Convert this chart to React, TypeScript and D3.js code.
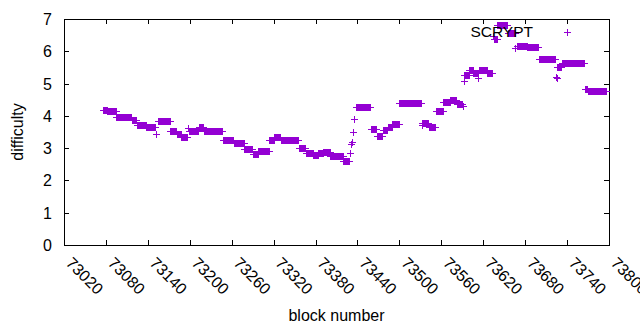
import React, { useEffect, useRef } from "react";
import * as d3 from "d3";

// runs of constant difficulty: first block, last block, difficulty
const runStart = [
  73076, 73082, 73095, 73117, 73124, 73138, 73152, 73155, 73172, 73182,
  73188, 73197, 73199, 73213, 73220, 73247, 73263, 73278, 73290, 73298,
  73314, 73321, 73330, 73356, 73366, 73377, 73384, 73391, 73401, 73420,
  73429, 73431, 73432, 73433, 73435, 73438, 73459, 73468, 73476, 73483,
  73490, 73500, 73532, 73533, 73542, 73552, 73563, 73573, 73582, 73591,
  73592, 73593, 73600, 73606, 73613, 73614, 73626, 73634, 73636, 73640,
  73655, 73666, 73668, 73683, 73700, 73724, 73725, 73726, 73733, 73765,
  73770,
];
const runEnd = [
  73081, 73094, 73116, 73123, 73137, 73150, 73152, 73171, 73181, 73187,
  73196, 73197, 73212, 73219, 73246, 73262, 73277, 73289, 73297, 73313,
  73320, 73329, 73355, 73365, 73376, 73383, 73390, 73400, 73419, 73428,
  73429, 73431, 73432, 73433, 73435, 73458, 73467, 73475, 73482, 73489,
  73499, 73531, 73532, 73541, 73551, 73562, 73572, 73581, 73590, 73591,
  73592, 73599, 73605, 73612, 73613, 73625, 73632, 73634, 73639, 73654,
  73665, 73666, 73682, 73699, 73722, 73724, 73725, 73732, 73764, 73769,
  73796,
];
const runDifficulty = [
  4.19, 4.14, 3.98, 3.88, 3.71, 3.67, 3.43, 3.83, 3.52, 3.44,
  3.34, 3.61, 3.52, 3.65, 3.52, 3.24, 3.15, 2.97, 2.82, 2.92,
  3.24, 3.34, 3.24, 2.99, 2.86, 2.79, 2.84, 2.89, 2.75, 2.59,
  2.85, 3.12, 3.18, 3.49, 3.89, 4.26, 3.58, 3.38, 3.55, 3.64,
  3.74, 4.39, 3.72, 3.79, 3.67, 4.14, 4.44, 4.49, 4.38, 4.31,
  5.08, 5.28, 5.42, 5.33, 5.18, 5.42, 5.33, 6.47, 6.38, 6.8,
  6.56, 6.1, 6.16, 6.12, 5.75, 5.21, 5.17, 5.5, 5.63, 4.84,
  4.78,
];

const xTicks = [
  73020, 73080, 73140, 73200, 73260, 73320, 73380, 73440, 73500, 73560,
  73620, 73680, 73740, 73800,
];
const yTicks = [0, 1, 2, 3, 4, 5, 6, 7];
const seriesName = "SCRYPT";

const W = 640;
const H = 330;
const FONT = "'Liberation Sans', Arial, sans-serif";
const COLOR = "#9400d3";

export default function App() {
  const ref = useRef<SVGSVGElement>(null);

  useEffect(() => {
    if (!ref.current) return;
    const svg = d3.select(ref.current);
    svg.selectAll("*").remove();

    const left = 64;
    const right = 609;
    const top = 19;
    const bottom = 245;

    const x = d3.scaleLinear().domain([73020, 73800]).range([left, right]);
    const y = d3.scaleLinear().domain([0, 7]).range([bottom, top]);

    // expand each run into one point per block
    const points: [number, number][] = [];
    runStart.forEach((s, i) => {
      d3.range(s, runEnd[i] + 1).forEach((b) => points.push([b, runDifficulty[i]]));
    });

    const tick = 5;

    // ticks (inward, mirrored)
    const ticks = svg.append("g").attr("stroke", "#000").attr("stroke-width", 1);
    yTicks.forEach((t) => {
      const py = Math.round(y(t)) + 0.5;
      ticks.append("line").attr("x1", left).attr("x2", left + tick).attr("y1", py).attr("y2", py);
      ticks.append("line").attr("x1", right).attr("x2", right - tick).attr("y1", py).attr("y2", py);
    });
    xTicks.forEach((t) => {
      const px = Math.round(x(t)) + 0.5;
      ticks.append("line").attr("x1", px).attr("x2", px).attr("y1", bottom).attr("y2", bottom - tick);
      ticks.append("line").attr("x1", px).attr("x2", px).attr("y1", top).attr("y2", top + tick);
    });

    // y tick labels
    svg
      .append("g")
      .selectAll("text")
      .data(yTicks)
      .enter()
      .append("text")
      .attr("x", left - 12)
      .attr("y", (d) => y(d) + 6)
      .attr("text-anchor", "end")
      .attr("font-family", FONT)
      .attr("font-size", 16)
      .attr("fill", "#000")
      .text((d) => d);

    // x tick labels, rotated by -45 (gnuplot sense)
    svg
      .append("g")
      .selectAll("text")
      .data(xTicks)
      .enter()
      .append("text")
      .attr("transform", (d) => `translate(${x(d) + 1},${bottom + 19}) rotate(45)`)
      .attr("text-anchor", "start")
      .attr("font-family", FONT)
      .attr("font-size", 16)
      .attr("fill", "#000")
      .text((d) => d);

    // frame
    svg
      .append("rect")
      .attr("x", left + 0.5)
      .attr("y", top + 0.5)
      .attr("width", right - left)
      .attr("height", bottom - top)
      .attr("fill", "none")
      .attr("stroke", "#000")
      .attr("stroke-width", 1);

    // axis titles
    svg
      .append("text")
      .attr("x", (left + right) / 2)
      .attr("y", 321)
      .attr("text-anchor", "middle")
      .attr("font-family", FONT)
      .attr("font-size", 16)
      .attr("fill", "#000")
      .text("block number");

    svg
      .append("text")
      .attr("transform", `translate(23,${(top + bottom) / 2}) rotate(-90)`)
      .attr("text-anchor", "middle")
      .attr("font-family", FONT)
      .attr("font-size", 16)
      .attr("fill", "#000")
      .text("difficulty");

    // points
    const s = 3.5;
    const cross = (px: number, py: number) =>
      `M${px - s},${py}h${2 * s}M${px},${py - s}v${2 * s}`;

    svg
      .append("path")
      .attr(
        "d",
        points.map((p) => cross(Math.round(x(p[0])) + 0.5, Math.round(y(p[1])) + 0.5)).join("")
      )
      .attr("fill", "none")
      .attr("stroke", COLOR)
      .attr("stroke-width", 1);

    // key
    svg
      .append("text")
      .attr("x", 533)
      .attr("y", 37)
      .attr("text-anchor", "end")
      .attr("font-family", FONT)
      .attr("font-size", 15.5)
      .attr("fill", "#000")
      .text(seriesName);

    svg
      .append("path")
      .attr("d", cross(567.5, 32.5))
      .attr("fill", "none")
      .attr("stroke", COLOR)
      .attr("stroke-width", 1);
  }, []);

  return (
    <svg
      ref={ref}
      width={W}
      height={H}
      style={{ position: "absolute", left: 0, top: 0, background: "#fff" }}
    />
  );
}
